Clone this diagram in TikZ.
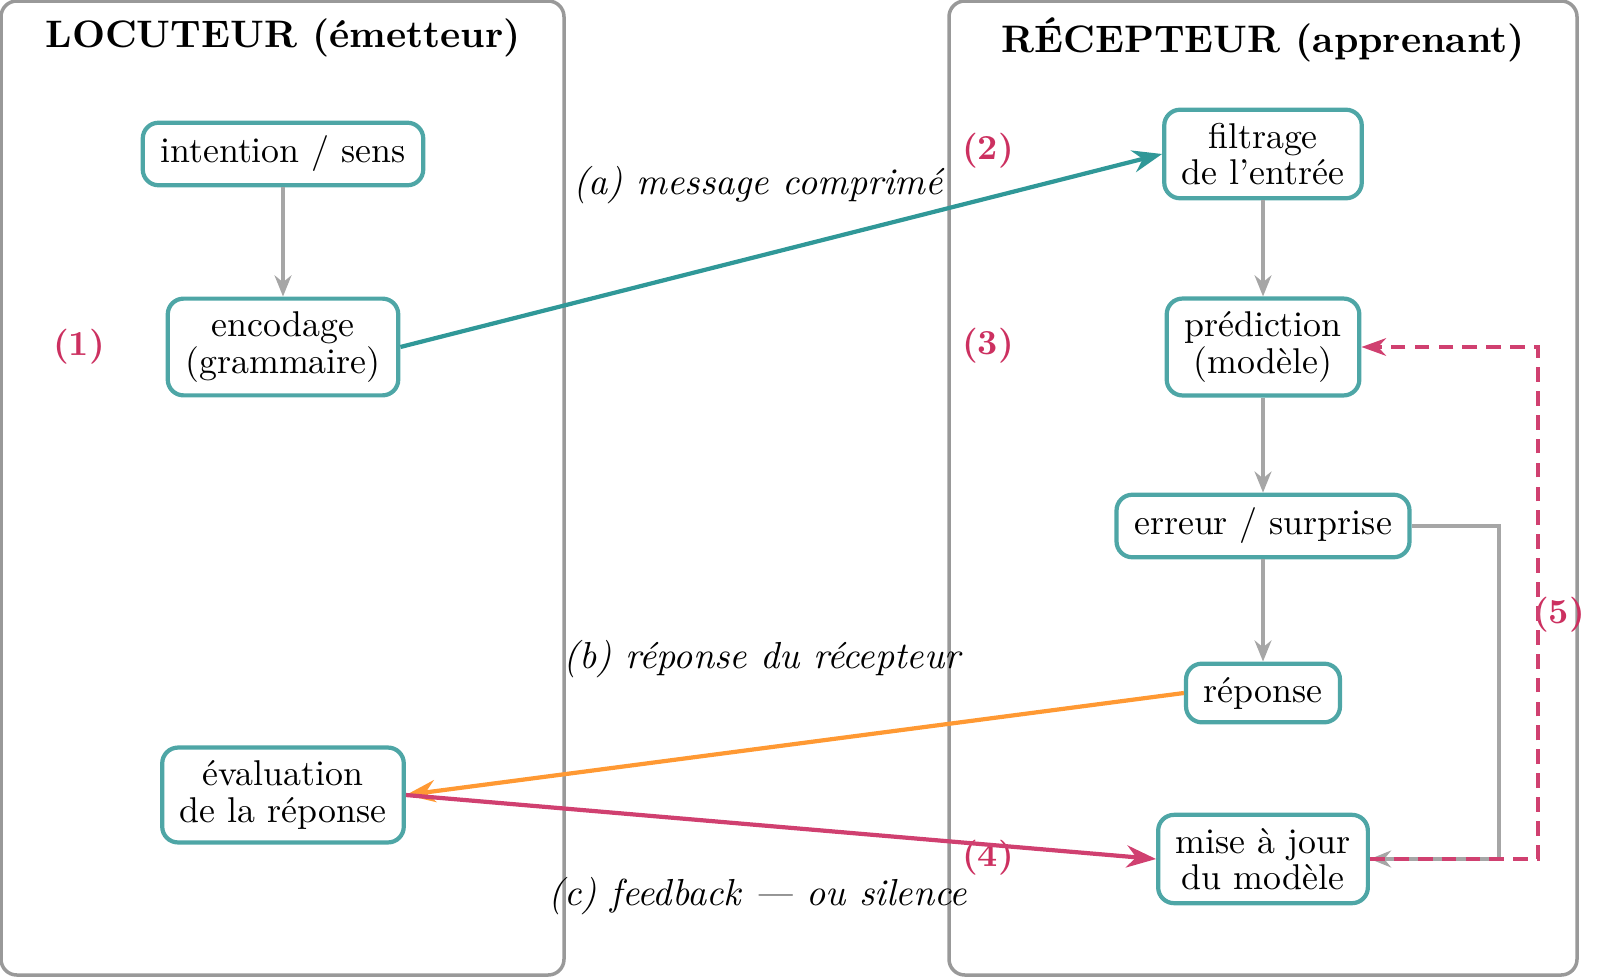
\documentclass[tikz,border=0pt]{standalone}
\usetikzlibrary{arrows.meta}

\definecolor{boxteal}{RGB}{78,166,166}
\definecolor{lineteal}{RGB}{48,152,152}
\definecolor{numrose}{RGB}{204,48,96}
\definecolor{lineorange}{RGB}{255,153,51}
\definecolor{linerose}{RGB}{208,64,112}

\tikzset{
  etape/.style={draw=boxteal,line width=1.2pt,rounded corners=4.5pt,fill=white,align=center,
    inner xsep=5pt,inner ysep=3.8pt,font=\fontsize{10.2}{10.3}\selectfont},
  panneau/.style={draw=black!40,line width=1pt,rounded corners=4.5pt},
  titre/.style={font=\fontsize{10.9}{13}\selectfont\bfseries},
  numero/.style={text=numrose,font=\bfseries\fontsize{10}{12}\selectfont},
  legende/.style={font=\itshape\fontsize{10.7}{12}\selectfont},
  fleche/.style={draw=black!35,line width=1pt,-{Stealth[length=6pt,width=4.8pt]}},
  lien/.style={line width=1.2pt,-{Stealth}},
}

\begin{document}
\begin{tikzpicture}
\path[use as bounding box] (0,0) rectangle (16,9.78);
\draw[panneau] (0.01,0.03) rectangle (5.64,9.77);
\draw[panneau] (9.49,0.03) rectangle (15.77,9.77);
\node[titre] (titreL) at (2.83,9.40) {LOCUTEUR (émetteur)};
\node[titre] (titreR) at (12.63,9.38) {RÉCEPTEUR (apprenant)};

\node[etape] (intention) at (2.83,8.24) {intention / sens};
\node[etape] (encodage) at (2.83,6.31) {encodage\\(grammaire)};
\node[etape] (evaluation) at (2.83,1.83) {évaluation\\de la réponse};
\node[etape] (filtrage) at (12.63,8.24) {filtrage\\de l’entrée};
\node[etape] (prediction) at (12.63,6.31) {prédiction\\(modèle)};
\node[etape] (erreur) at (12.63,4.52) {erreur / surprise};
\node[etape] (reponse) at (12.63,2.85) {réponse};
\node[etape] (majour) at (12.63,1.19) {mise à jour\\du modèle};

\node[numero] (n1) at (0.79,6.31) {(1)};
\node[numero] (n2) at (9.88,8.27) {(2)};
\node[numero] (n3) at (9.88,6.32) {(3)};
\node[numero] (n4) at (9.88,1.20) {(4)};
\node[numero] (n5) at (15.59,3.63) {(5)};

\node[legende] (la) at (7.58,7.93) {(a) message comprimé};
\node[legende] (lb) at (7.62,3.19) {(b) réponse du récepteur};
\node[legende] (lc) at (7.58,0.82) {(c) feedback --- ou silence};

\draw[fleche] (intention) -- (encodage);
\draw[fleche] (filtrage) -- (prediction);
\draw[fleche] (prediction) -- (erreur);
\draw[fleche] (erreur) -- (reponse);
\coordinate (rail) at (14.99,0);
\coordinate (boucle) at (15.38,0);
\draw[fleche] (erreur.east) -- (erreur.east -| rail) |- (majour.east);
\draw[linerose,line width=1.1pt,dash pattern=on 4.2pt off 2.6pt,-{Stealth[length=7pt,width=5pt]}]
  (majour.east) -- (majour.east -| boucle) |- (prediction.east);

\draw[lien,lineteal] (encodage.east) -- (filtrage.west);
\draw[lien,lineorange] (reponse.west) -- (evaluation.east);
\draw[lien,linerose] (evaluation.east) -- (majour.west);
\end{tikzpicture}
\end{document}
